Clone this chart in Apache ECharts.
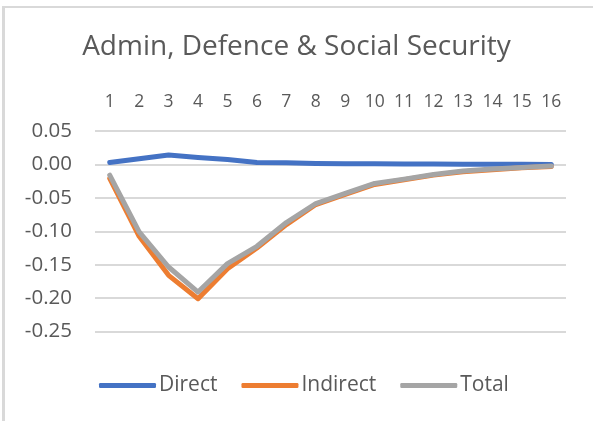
<!DOCTYPE html>
<html>
<head>
<meta charset="utf-8">
<script src="https://cdn.jsdelivr.net/npm/echarts@6/dist/echarts.min.js"></script>
<style>
  html, body { margin: 0; padding: 0; background: #fff; }
  #frame { position: absolute; left: 2px; top: 6px; width: 700px; height: 500px;
           border-left: 3px solid #d9d9d9; border-top: 2px solid #d9d9d9; }
  #chart { position: absolute; left: 0; top: 0; width: 593px; height: 421px; }
</style>
</head>
<body>
<div id="frame"></div>
<div id="chart"></div>
<script>
// periods 1..16
var periods = ["1", "2", "3", "4", "5", "6", "7", "8", "9", "10", "11", "12", "13", "14", "15", "16"];

var direct = [0.003, 0.0085, 0.014, 0.0105, 0.0075, 0.003, 0.0025, 0.0015, 0.001, 0.001, 0.0005, 0.0005, 0.0003, 0.0002, 0.0002, 0.0];
var indirect = [-0.021, -0.1075, -0.166, -0.201, -0.156, -0.125, -0.09, -0.06, -0.045, -0.03, -0.023, -0.016, -0.011, -0.008, -0.005, -0.003];
var total = [-0.016, -0.101, -0.1535, -0.191, -0.1485, -0.1225, -0.087, -0.0585, -0.0435, -0.0285, -0.022, -0.015, -0.010, -0.007, -0.0045, -0.0025];

var seriesNames = ["Direct", "Indirect", "Total"];
var colors = ["#4472C4", "#ED7D31", "#A5A5A5"];

var font = "'Open Sans', 'Noto Sans', sans-serif";
var chart = echarts.init(document.getElementById("chart"));

function lineSeries(name, data, color) {
  return {
    name: name,
    type: "line",
    data: data,
    symbol: "none",
    smooth: false,
    lineStyle: { color: color, width: 5, cap: "round", join: "round" },
    itemStyle: { color: color },
    animation: false
  };
}

chart.setOption({
  title: {
    text: "Admin, Defence & Social Security",
    left: "center",
    top: 28,
    textStyle: { fontFamily: font, fontSize: 28, fontWeight: "normal", color: "#595959" }
  },
  legend: {
    data: seriesNames,
    bottom: 20,
    left: 94,
    icon: "roundRect",
    itemWidth: 57,
    itemHeight: 5,
    itemGap: 24,
    textStyle: { fontFamily: font, fontSize: 21, color: "#595959", padding: [0, 0, 0, -2] }
  },
  grid: { left: 95, right: 27, top: 131, bottom: 89.5 },
  xAxis: {
    type: "category",
    data: periods,
    position: "top",
    boundaryGap: true,
    axisLine: { show: false },
    axisTick: { show: false },
    axisLabel: { margin: 20, fontFamily: font, fontSize: 17.5, color: "#595959" },
    splitLine: { show: false }
  },
  yAxis: {
    type: "value",
    min: -0.25,
    max: 0.05,
    interval: 0.05,
    axisLine: { show: false },
    axisTick: { show: false },
    axisLabel: {
      margin: 23,
      fontFamily: font,
      fontSize: 20.5,
      color: "#595959",
      formatter: function (v) { return v.toFixed(2); }
    },
    splitLine: { lineStyle: { color: "#d9d9d9", width: 2 } }
  },
  series: [
    lineSeries(seriesNames[0], direct, colors[0]),
    lineSeries(seriesNames[1], indirect, colors[1]),
    lineSeries(seriesNames[2], total, colors[2])
  ]
});
</script>
</body>
</html>
